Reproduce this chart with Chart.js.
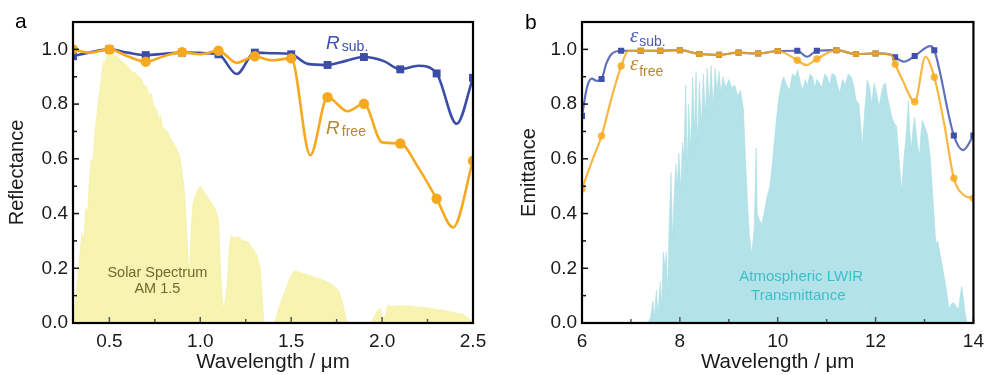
<!DOCTYPE html>
<html><head><meta charset="utf-8">
<script src="https://cdn.jsdelivr.net/npm/chart.js@4/dist/chart.umd.min.js"></script>
<style>
html,body{margin:0;padding:0;background:#fff;width:991px;height:375px;overflow:hidden}
#a{position:absolute;left:0;top:0;width:495px;height:375px}
#b{position:absolute;left:495px;top:0;width:496px;height:375px}
</style></head><body>
<div id="a"><canvas id="ca"></canvas></div>
<div id="b"><canvas id="cb"></canvas></div>
<script>
// ---------------- Panel a data ----------------
const markerXA = [0.3,0.5,0.7,0.9,1.1,1.3,1.5,1.7,1.9,2.1,2.3,2.5];
const rSubMarkers  = [0.975,1.0,0.979,0.988,0.982,0.988,0.982,0.943,0.972,0.927,0.912,0.896];
const rFreeMarkers = [1.0,1.0,0.955,0.99,0.995,0.975,0.967,0.825,0.801,0.656,0.454,0.593];
const rSubCurveX = [0.3,0.4,0.5,0.6,0.7,0.8,0.9,1.0,1.1,1.2,1.3,1.4,1.5,1.59,1.7,1.8,1.9,2.01,2.1,2.2,2.3,2.41,2.5];
const rSubCurveY = [0.975,0.99,1.0,0.988,0.979,0.984,0.988,0.987,0.982,0.91,0.988,0.986,0.982,0.947,0.943,0.958,0.972,0.957,0.927,0.94,0.912,0.728,0.896];
const rFreeCurveX = [0.3,0.39,0.5,0.6,0.7,0.8,0.9,1.0,1.1,1.2,1.3,1.39,1.5,1.605,1.7,1.81,1.9,2.0,2.1,2.2,2.3,2.39,2.5];
const rFreeCurveY = [1.0,0.988,1.0,0.975,0.955,0.975,0.99,0.982,0.995,0.951,0.975,0.96,0.967,0.613,0.825,0.774,0.801,0.66,0.656,0.567,0.454,0.349,0.593];
const solarX = [0.30,0.31,0.33,0.35,0.36,0.37,0.38,0.39,0.40,0.41,0.42,0.43,0.44,0.45,0.46,0.47,0.48,0.49,0.50,0.51,0.52,0.53,0.54,0.56,0.58,0.60,0.62,0.64,0.66,0.68,0.69,0.70,0.72,0.73,0.74,0.76,0.77,0.78,0.79,0.80,0.82,0.84,0.86,0.88,0.89,0.90,0.91,0.92,0.93,0.94,0.95,0.96,0.97,0.99,1.00,1.02,1.04,1.06,1.08,1.10,1.11,1.12,1.13,1.14,1.15,1.16,1.17,1.19,1.21,1.23,1.25,1.27,1.29,1.31,1.33,1.34,1.35,1.41,1.43,1.45,1.47,1.49,1.51,1.53,1.55,1.58,1.62,1.66,1.70,1.73,1.76,1.78,1.80,1.81,1.94,1.97,1.99,2.00,2.02,2.03,2.05,2.10,2.15,2.20,2.25,2.30,2.35,2.40,2.45,2.48,2.50];
const solarY = [0.0,0.05,0.2,0.33,0.30,0.42,0.40,0.52,0.60,0.58,0.70,0.75,0.82,0.86,0.92,0.96,0.95,0.99,1.0,0.98,1.0,0.97,0.98,0.96,0.95,0.94,0.92,0.915,0.90,0.89,0.86,0.87,0.83,0.84,0.80,0.78,0.74,0.76,0.72,0.71,0.70,0.67,0.65,0.62,0.60,0.55,0.50,0.40,0.28,0.16,0.33,0.44,0.46,0.49,0.50,0.48,0.46,0.44,0.42,0.38,0.22,0.10,0.04,0.10,0.16,0.28,0.32,0.31,0.315,0.30,0.30,0.29,0.27,0.25,0.20,0.10,0.0,0.0,0.05,0.09,0.12,0.16,0.185,0.19,0.185,0.178,0.17,0.16,0.15,0.137,0.12,0.08,0.02,0.0,0.0,0.04,0.055,0.015,0.03,0.065,0.06,0.063,0.062,0.058,0.055,0.05,0.045,0.038,0.03,0.015,0.0];
const xMajorA = [0.5,1.0,1.5,2.0,2.5];
const xMinorA = [0.75,1.25,1.75,2.25];

// ---------------- Panel b data ----------------
const markerXB = [6.0,6.4,6.8,7.2,7.6,8.0,8.4,8.8,9.2,9.6,10.0,10.4,10.8,11.2,11.6,12.0,12.4,12.8,13.2,13.6,14.0];
const eSubMarkers  = [0.757,0.892,0.995,0.995,0.995,0.997,0.983,0.98,0.988,0.985,0.994,0.995,0.995,0.997,0.983,0.985,0.971,0.976,0.997,0.685,0.685];
const eFreeMarkers = [0.49,0.684,0.939,0.995,0.995,0.997,0.983,0.98,0.988,0.985,0.994,0.96,0.965,0.997,0.983,0.985,0.946,0.809,0.898,0.529,0.456];
const eSubCurveX = [6.0,6.1,6.2,6.3,6.4,6.5,6.6,6.8,7.2,7.6,8.0,8.4,8.8,9.2,9.6,10.0,10.4,10.6,10.8,11.2,11.6,12.0,12.32,12.4,12.58,12.8,13.12,13.2,13.6,13.79,14.0];
const eSubCurveY = [0.757,0.86,0.893,0.885,0.892,0.95,0.982,0.995,0.995,0.995,0.997,0.983,0.98,0.988,0.985,0.994,0.995,0.973,0.995,0.997,0.983,0.985,0.98,0.971,0.955,0.976,1.012,0.997,0.685,0.632,0.685];
const eFreeCurveX = [6.0,6.2,6.4,6.6,6.8,6.95,7.2,7.6,8.0,8.4,8.8,9.2,9.6,10.0,10.4,10.58,10.8,11.2,11.6,12.0,12.32,12.4,12.55,12.8,13.02,13.2,13.4,13.6,13.8,14.0];
const eFreeCurveY = [0.49,0.59,0.684,0.82,0.939,0.995,0.995,0.995,0.997,0.983,0.98,0.988,0.985,0.994,0.96,0.943,0.965,0.997,0.983,0.985,0.979,0.946,0.888,0.809,0.973,0.898,0.73,0.529,0.468,0.456];
const lwirX = [6.0,7.35,7.40,7.45,7.48,7.52,7.55,7.60,7.63,7.66,7.70,7.72,7.75,7.78,7.82,7.85,7.88,7.92,7.95,7.98,8.02,8.05,8.08,8.12,8.15,8.18,8.22,8.26,8.30,8.33,8.36,8.40,8.44,8.48,8.52,8.56,8.60,8.64,8.68,8.72,8.76,8.80,8.84,8.88,8.94,9.00,9.06,9.12,9.18,9.24,9.30,9.34,9.38,9.42,9.47,9.52,9.56,9.58,9.62,9.67,9.72,9.78,9.84,9.90,9.96,10.02,10.08,10.12,10.18,10.24,10.30,10.36,10.41,10.46,10.51,10.56,10.61,10.66,10.71,10.76,10.80,10.84,10.90,10.96,11.01,11.06,11.11,11.17,11.22,11.27,11.32,11.38,11.44,11.50,11.55,11.60,11.66,11.73,11.78,11.83,11.88,11.92,11.97,12.02,12.07,12.12,12.16,12.20,12.25,12.30,12.33,12.38,12.43,12.48,12.53,12.58,12.63,12.67,12.70,12.73,12.77,12.80,12.85,12.90,12.93,12.96,13.00,13.06,13.12,13.16,13.20,13.23,13.27,13.30,13.35,13.40,13.45,13.50,13.55,13.60,13.65,13.70,13.73,13.76,13.80,13.83,13.87,14.0];
const lwirY = [0,0,0.02,0.08,0.02,0.12,0.03,0.15,0.05,0.26,0.20,0.26,0.10,0.35,0.55,0.30,0.45,0.58,0.50,0.62,0.48,0.66,0.60,0.87,0.55,0.80,0.62,0.90,0.70,0.92,0.65,0.88,0.72,0.91,0.76,0.93,0.80,0.94,0.78,0.93,0.85,0.92,0.84,0.90,0.86,0.89,0.86,0.87,0.83,0.85,0.78,0.60,0.45,0.32,0.25,0.35,0.64,0.40,0.38,0.36,0.40,0.46,0.50,0.60,0.72,0.82,0.88,0.90,0.87,0.85,0.91,0.90,0.925,0.88,0.85,0.89,0.87,0.91,0.90,0.86,0.89,0.88,0.86,0.91,0.90,0.87,0.912,0.906,0.87,0.84,0.89,0.87,0.91,0.90,0.87,0.815,0.80,0.645,0.78,0.888,0.86,0.80,0.876,0.84,0.79,0.84,0.87,0.876,0.82,0.78,0.754,0.73,0.718,0.60,0.48,0.60,0.70,0.81,0.70,0.63,0.72,0.75,0.66,0.61,0.70,0.74,0.72,0.69,0.60,0.487,0.38,0.29,0.30,0.27,0.22,0.17,0.12,0.05,0.07,0.075,0.06,0.05,0.10,0.134,0.08,0.036,0.0,0.0];
const xMajorB = [6,8,10,12,14];
const xMinorB = [7,9,11,13];

const yMajor = [0,0.2,0.4,0.6,0.8,1.0];
const yMinor = [0.1,0.3,0.5,0.7,0.9];

const pts = (xs, ys) => xs.map((x, i) => ({x, y: ys[i]}));
const FONT = '"Liberation Sans", Arial, sans-serif';

const framePlugin = {
  id: 'frame',
  afterDatasetsDraw(chart, args, o) {
    const {ctx, chartArea: a, scales: {x, y}} = chart;
    ctx.save();
    const seg = (x1, y1, x2, y2) => { ctx.beginPath(); ctx.moveTo(x1, y1); ctx.lineTo(x2, y2); ctx.stroke(); };
    ctx.lineWidth = 1.5;
    ctx.strokeStyle = '#555';
    o.xMajor.forEach(v => { const p = x.getPixelForValue(v); seg(p, a.bottom, p, a.bottom - 6); });
    o.xMinor.forEach(v => { const p = x.getPixelForValue(v); seg(p, a.bottom, p, a.bottom - 4); });
    ctx.strokeStyle = '#111';
    yMajor.forEach(v => { const p = y.getPixelForValue(v); seg(a.left, p, a.left + 6, p); });
    yMinor.forEach(v => { const p = y.getPixelForValue(v); seg(a.left, p, a.left + 4, p); });
    ctx.lineWidth = 2.2;
    ctx.strokeStyle = '#000';
    ctx.strokeRect(a.left, a.top, a.right - a.left, a.bottom - a.top);
    (o.texts || []).forEach(t => {
      let px = x.getPixelForValue(t.x);
      const py = y.getPixelForValue(t.y);
      ctx.textBaseline = 'alphabetic';
      if (t.center) {
        ctx.font = t.parts[0].font;
        ctx.textAlign = 'center';
        ctx.fillStyle = t.parts[0].color;
        ctx.fillText(t.parts[0].text, px, py);
        return;
      }
      ctx.textAlign = 'left';
      t.parts.forEach(p => {
        ctx.font = p.font;
        ctx.fillStyle = p.color;
        ctx.fillText(p.text, px + (p.dx || 0), py + (p.dy || 0));
        px += ctx.measureText(p.text).width + (p.dx || 0);
      });
    });
    ctx.font = '21px ' + FONT;
    ctx.fillStyle = '#000';
    ctx.textAlign = 'left';
    ctx.fillText(o.letter, o.letterX, o.letterY);
    ctx.restore();
  }
};

function makeChart(id, cfg) {
  return new Chart(document.getElementById(id), {
    type: 'line',
    data: {datasets: cfg.datasets},
    options: {
      responsive: true, maintainAspectRatio: false, animation: false, events: [],
      layout: {padding: cfg.padding},
      plugins: {legend: {display: false}, tooltip: {enabled: false}, frame: cfg.frame},
      scales: {
        x: {
          type: 'linear', min: cfg.xMin, max: cfg.xMax,
          grid: {display: false, drawTicks: false}, border: {display: false},
          afterBuildTicks: s => { s.ticks = cfg.frame.xMajor.map(v => ({value: v})); },
          afterFit: s => { s.height = 52; },
          ticks: {padding: 7, color: '#1a1a1a', font: {family: FONT, size: 19}, maxRotation: 0, autoSkip: false,
                  callback: v => cfg.xFmt(v)},
          title: {display: true, text: 'Wavelength / μm', color: '#1a1a1a', font: {family: FONT, size: 20.5}, padding: {top: 0, bottom: 0}}
        },
        y: {
          type: 'linear', min: 0, max: 1.1,
          grid: {display: false, drawTicks: false}, border: {display: false},
          afterBuildTicks: s => { s.ticks = yMajor.map(v => ({value: v})); },
          afterFit: s => { s.width = cfg.yWidth; },
          ticks: {padding: 5, color: '#1a1a1a', font: {family: FONT, size: 19}, autoSkip: false,
                  callback: v => Number(v).toFixed(1)},
          title: {display: true, text: cfg.yTitle, color: '#1a1a1a', font: {family: FONT, size: 20}, padding: {top: 0, bottom: 0}}
        }
      }
    },
    plugins: [framePlugin]
  });
}

// Panel a
const BLUE_A = '#3A4DA7', ORANGE_A = '#F6A91F';
makeChart('ca', {
  padding: {left: 5, right: 22, top: 22, bottom: 0},
  yWidth: 68, xMin: 0.3, xMax: 2.5, yTitle: 'Reflectance',
  xFmt: v => Number(v).toFixed(1),
  datasets: [
    {data: pts(markerXA, rFreeMarkers), showLine: false, pointStyle: 'circle', pointRadius: 5.2, pointBackgroundColor: ORANGE_A, pointBorderColor: ORANGE_A, pointBorderWidth: 0},
    {data: pts(rFreeCurveX, rFreeCurveY), borderColor: ORANGE_A, borderWidth: 2.6, pointRadius: 0, cubicInterpolationMode: 'monotone', fill: false},
    {data: pts(markerXA, rSubMarkers), showLine: false, pointStyle: 'rect', pointRadius: 5.6, pointBackgroundColor: BLUE_A, pointBorderColor: BLUE_A, pointBorderWidth: 0},
    {data: pts(rSubCurveX, rSubCurveY), borderColor: BLUE_A, borderWidth: 2.6, pointRadius: 0, cubicInterpolationMode: 'monotone', fill: false},
    {data: pts(solarX, solarY), borderColor: '#F1EC9A', borderWidth: 0.6, backgroundColor: '#F7F4B2', pointRadius: 0, tension: 0, fill: 'origin'}
  ],
  frame: {
    xMajor: xMajorA, xMinor: xMinorA, letter: 'a', letterX: 15, letterY: 28,
    texts: [
      {x: 1.692, y: 1.0, parts: [
        {text: 'R', font: 'italic 19px ' + FONT, color: '#3D4FB0'},
        {text: 'sub.', font: '14px ' + FONT, color: '#3D4FB0', dx: 2, dy: 2}]},
      {x: 1.692, y: 0.689, parts: [
        {text: 'R', font: 'italic 19px ' + FONT, color: '#B8892C'},
        {text: 'free', font: '14px ' + FONT, color: '#B8892C', dx: 2, dy: 2}]},
      {x: 0.764, y: 0.168, center: true, parts: [{text: 'Solar Spectrum', font: '14.5px ' + FONT, color: '#6F6B2C'}]},
      {x: 0.764, y: 0.11, center: true, parts: [{text: 'AM 1.5', font: '14.5px ' + FONT, color: '#6F6B2C'}]}
    ]
  }
});

// Panel b
const BLUE_B = 'rgba(58,76,170,0.8)', ORANGE_B = 'rgba(246,168,25,0.82)';
const freeStyles = eFreeMarkers.map((v, i) => v === eSubMarkers[i] ? 'rect' : 'circle');
const freeRadius = eFreeMarkers.map((v, i) => v === eSubMarkers[i] ? 4.3 : 3.7);
makeChart('cb', {
  padding: {left: 22, right: 11, top: 22, bottom: 0},
  yWidth: 65, xMin: 6, xMax: 14, yTitle: 'Emittance',
  xFmt: v => String(Math.round(v)),
  datasets: [
    {data: pts(markerXB, eFreeMarkers), showLine: false, pointStyle: freeStyles, pointRadius: freeRadius, pointBackgroundColor: ORANGE_B, pointBorderColor: ORANGE_B, pointBorderWidth: 0},
    {data: pts(eFreeCurveX, eFreeCurveY), borderColor: ORANGE_B, borderWidth: 2.2, pointRadius: 0, cubicInterpolationMode: 'monotone', fill: false},
    {data: pts(markerXB, eSubMarkers), showLine: false, pointStyle: 'rect', pointRadius: 4.3, pointBackgroundColor: '#3F51AC', pointBorderColor: '#3F51AC', pointBorderWidth: 0},
    {data: pts(eSubCurveX, eSubCurveY), borderColor: BLUE_B, borderWidth: 2.2, pointRadius: 0, cubicInterpolationMode: 'monotone', fill: false},
    {data: pts(lwirX, lwirY), borderColor: '#A9DEE4', borderWidth: 0.6, backgroundColor: '#B3E3E8', pointRadius: 0, tension: 0, fill: 'origin'}
  ],
  frame: {
    xMajor: xMajorB, xMinor: xMinorB, letter: 'b', letterX: 30, letterY: 29,
    texts: [
      {x: 6.98, y: 1.027, parts: [
        {text: 'ε', font: 'italic 21px "Liberation Serif", "DejaVu Serif", serif', color: '#4B5BB4'},
        {text: 'sub.', font: '14px ' + FONT, color: '#4B5BB4', dx: 1, dy: 4}]},
      {x: 6.98, y: 0.924, parts: [
        {text: 'ε', font: 'italic 21px "Liberation Serif", "DejaVu Serif", serif', color: '#B8892C'},
        {text: 'free', font: '14px ' + FONT, color: '#B8892C', dx: 1, dy: 6}]},
      {x: 10.48, y: 0.152, center: true, parts: [{text: 'Atmospheric LWIR', font: '15px ' + FONT, color: '#3BBFCB'}]},
      {x: 10.42, y: 0.085, center: true, parts: [{text: 'Transmittance', font: '15px ' + FONT, color: '#3BBFCB'}]}
    ]
  }
});
</script>
</body></html>
